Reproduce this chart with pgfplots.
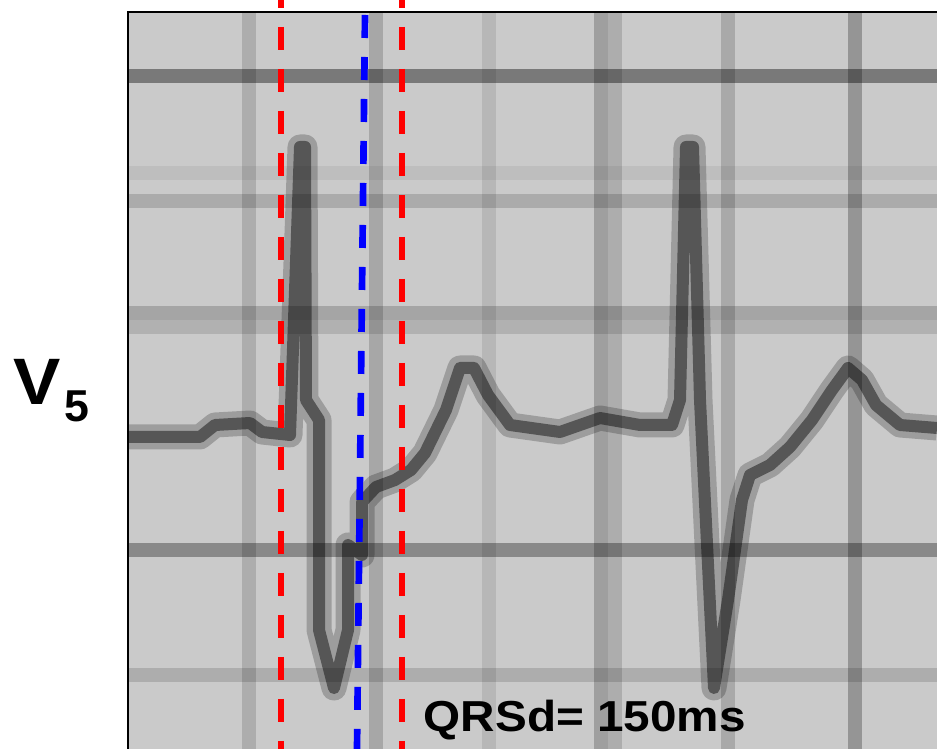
\documentclass[border=0pt]{standalone}
\usepackage{pgfplots}
\pgfplotsset{compat=1.18}
\usepackage{fontspec}
\setmainfont{Liberation Sans}
\definecolor{bg}{HTML}{CACACA}
\begin{document}
\begin{tikzpicture}[x=0.3pt,y=0.3pt]
\begin{axis}[scale only axis, width=242.7pt, height=221.1pt,
  xmin=128, xmax=937, ymin=12, ymax=749, y dir=reverse,
  hide axis, clip=false]
\coordinate (TL) at (axis cs:0,0);
\coordinate (BR) at (axis cs:937,749);
\fill[bg] (axis cs:128,12) rectangle (axis cs:937,749);
% horizontal grid bands
\addplot[black, opacity=0.40, line width=4.2pt] coordinates {(128,76) (937,76)};
\addplot[black, opacity=0.06, line width=4.2pt] coordinates {(128,173) (937,173)};
\addplot[black, opacity=0.15, line width=4.2pt] coordinates {(128,201) (937,201)};
\addplot[black, opacity=0.18, line width=4.2pt] coordinates {(128,313) (937,313)};
\addplot[black, opacity=0.12, line width=4.2pt] coordinates {(128,327) (937,327)};
\addplot[black, opacity=0.32, line width=4.2pt] coordinates {(128,550) (937,550)};
\addplot[black, opacity=0.14, line width=4.2pt] coordinates {(128,675) (937,675)};
% vertical grid bands
\addplot[black, opacity=0.14, line width=4.2pt] coordinates {(249,12) (249,749)};
\addplot[black, opacity=0.17, line width=4.2pt] coordinates {(376,12) (376,749)};
\addplot[black, opacity=0.09, line width=4.2pt] coordinates {(489,12) (489,749)};
\addplot[black, opacity=0.21, line width=4.2pt] coordinates {(601,12) (601,749)};
\addplot[black, opacity=0.14, line width=4.2pt] coordinates {(615,12) (615,749)};
\addplot[black, opacity=0.16, line width=4.2pt] coordinates {(728,12) (728,749)};
\addplot[black, opacity=0.26, line width=4.2pt] coordinates {(855,12) (855,749)};
% ECG trace: halo and core
\pgfplotstableread{
x y
128 437
200 437
215 425
250 423
262 432
290 435
300 147
305 147
306 400
319 420
319 630
334 688
348 630
348 545
362 555
362 502
376 487
395 480
411 470
425 453
446 410
460 368
474 368
488 395
510 425
560 432
600 418
640 425
672 425
680 400
686 147
693 147
700 400
714 688
728 600
742 500
750 475
770 465
790 447
812 420
832 390
848 368
862 380
876 405
900 425
937 428
}\ecg
\addplot[black, opacity=0.22, line width=7.5pt, line join=round] table[x=x,y=y] {\ecg};
\addplot[black, opacity=0.45, line width=3.6pt, line join=round] table[x=x,y=y] {\ecg};
% axis border (left and top)
\draw[black, line width=0.8pt] (axis cs:128,749) -- (axis cs:128,12) -- (axis cs:937,12);
% markers
\addplot[red, line width=2pt, dash pattern=on 6.9pt off 5.7pt, dash phase=4.5pt] coordinates {(281,0) (281,749)};
\addplot[red, line width=2pt, dash pattern=on 6.9pt off 5.7pt, dash phase=4.5pt] coordinates {(402,0) (402,749)};
\addplot[blue, line width=2pt, dash pattern=on 6.9pt off 5.7pt] coordinates {(365,15) (357,749)};
% labels
\node[anchor=base west, inner sep=0pt, font=\bfseries\fontsize{13}{13}\selectfont, xscale=1.1] at (axis cs:423,731) {QRSd= 150ms};
\node[anchor=base west, inner sep=0pt, font=\bfseries\fontsize{19.7}{20}\selectfont, xscale=1.08] at (axis cs:13,405) {V};
\node[anchor=base west, inner sep=0pt, font=\bfseries\fontsize{13.4}{14}\selectfont] at (axis cs:64,422) {5};
\end{axis}
\pgfresetboundingbox
\path[use as bounding box] (TL) rectangle (BR);
\end{tikzpicture}
\end{document}
